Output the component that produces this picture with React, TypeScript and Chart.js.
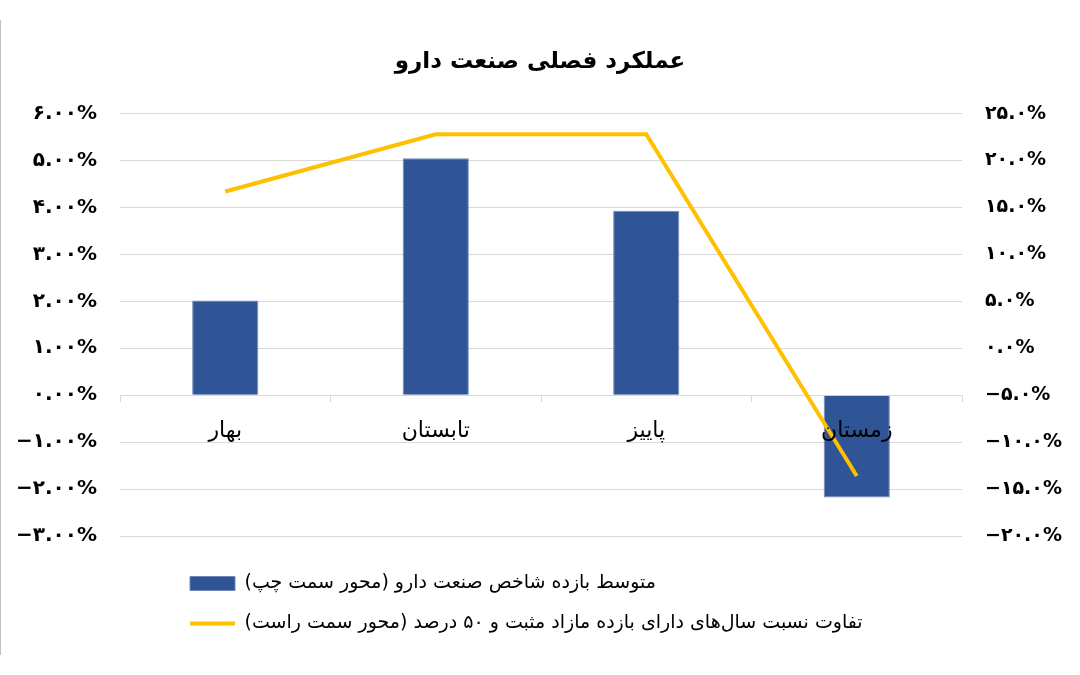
import React, { useEffect, useRef } from "react";
import { Chart, registerables } from "chart.js";

Chart.register(...registerables);

const categories = ["بهار", "تابستان", "پاییز", "زمستان"];
const avgReturn = [2.02, 5.05, 3.93, -2.18];
const diffRatio = [16.7, 22.8, 22.8, -13.6];
const leftTickLabels: Record<string, string> = {
  "6": "۶.۰۰%", "5": "۵.۰۰%", "4": "۴.۰۰%", "3": "۳.۰۰%", "2": "۲.۰۰%",
  "1": "۱.۰۰%", "0": "۰.۰۰%", "-1": "−۱.۰۰%", "-2": "−۲.۰۰%", "-3": "−۳.۰۰%",
};
const rightTickLabels: Record<string, string> = {
  "25": "۲۵.۰%", "20": "۲۰.۰%", "15": "۱۵.۰%", "10": "۱۰.۰%", "5": "۵.۰%",
  "0": "۰.۰%", "-5": "−۵.۰%", "-10": "−۱۰.۰%", "-15": "−۱۵.۰%", "-20": "−۲۰.۰%",
};
const titleText = "عملکرد فصلی صنعت دارو";
const barLabel = "متوسط بازده شاخص صنعت دارو (محور سمت چپ)";
const lineLabel = "تفاوت نسبت سال‌های دارای بازده مازاد مثبت و ۵۰ درصد (محور سمت راست)";

const FONT = "'DejaVu Sans', sans-serif";
const LRM = "\u200E";

const legendShift = {
  id: "legendShift",
  afterLayout(chart: any) {
    const lg = chart.legend;
    if (lg && chart.chartArea) {
      lg.left = chart.chartArea.left + 70 - lg.options.labels.padding;
      lg.top += 17;
      lg.bottom += 17;
    }
  },
};

export default function App() {
  const ref = useRef<HTMLCanvasElement | null>(null);
  useEffect(() => {
    if (!ref.current) return;
    const chart = new Chart(ref.current, {
      data: {
        labels: categories,
        datasets: [
          {
            type: "line",
            label: lineLabel,
            data: diffRatio,
            yAxisID: "y1",
            borderColor: "#FFC000",
            backgroundColor: "#FFC000",
            borderWidth: 4,
            pointRadius: 0,
            tension: 0,
            order: 0,
          } as any,
          {
            type: "bar",
            label: barLabel,
            data: avgReturn,
            yAxisID: "y",
            backgroundColor: "#2F5597",
            borderColor: "#7088b8",
            borderWidth: 1,
            categoryPercentage: 0.8,
            barPercentage: 0.393,
            order: 1,
          } as any,
        ],
      },
      options: {
        animation: false,
        responsive: true,
        maintainAspectRatio: false,
        layout: { padding: { left: 0, right: 0, top: 0, bottom: 49 } },
        font: { family: FONT },
        plugins: {
          title: {
            display: true,
            text: titleText,
            color: "#000",
            font: { family: FONT, size: 23, weight: "bold" },
            padding: { top: 48, bottom: 38 },
          },
          legend: {
            display: true,
            position: "bottom",
            align: "start",
            reverse: true,
            textDirection: "rtl",
            labels: {
              color: "#000",
              font: { family: FONT, size: 19 },
              usePointStyle: true,
              pointStyleWidth: 45,
              boxHeight: 14,
              padding: 21,
              generateLabels: (chart: any) => {
                return chart.data.datasets.map((ds: any, i: number) => ({
                  text: ds.label,
                  fillStyle: ds.backgroundColor,
                  strokeStyle: ds.type === "line" ? ds.borderColor : "#7088b8",
                  lineWidth: ds.type === "line" ? 4 : 1,
                  pointStyle: ds.type === "line" ? "line" : "rect",
                  datasetIndex: i,
                  hidden: false,
                }));
              },
            },
          },
          tooltip: { enabled: false },
        },
        scales: {
          x: {
            position: { y: 0 } as any,
            offset: true,
            grid: {
              drawOnChartArea: false,
              drawTicks: true,
              tickLength: 6,
              color: "#d9d9d9",
              offset: true,
            },
            border: { display: true, color: "#d9d9d9" },
            ticks: {
              z: 1,
              color: "#000",
              padding: 17,
              font: { family: FONT, size: 22 },
            },
          },
          y: {
            position: "left",
            min: -3,
            max: 6,
            afterFit: (s: any) => { s.width = 120; },
            grid: { color: "#d9d9d9", drawTicks: false },
            border: { display: false },
            ticks: {
              stepSize: 1,
              padding: 23,
              color: "#000",
              font: { family: FONT, size: 20, weight: "bold" },
              callback: (v: any) => LRM + (leftTickLabels[String(v)] ?? "") + LRM,
            },
          },
          y1: {
            position: "right",
            min: -20,
            max: 25,
            afterFit: (s: any) => { s.width = 118; },
            grid: { display: false, drawTicks: false },
            border: { display: false },
            ticks: {
              stepSize: 5,
              padding: 23,
              color: "#000",
              font: { family: FONT, size: 19, weight: "bold" },
              callback: (v: any) => LRM + (rightTickLabels[String(v)] ?? "") + LRM,
            },
          },
        },
      } as any,
      plugins: [legendShift],
    });
    return () => chart.destroy();
  }, []);
  return (
    <div
      style={{
        position: "fixed",
        left: 0,
        top: 0,
        width: 1080,
        height: 675,
        background: "#fff",
      }}
    >
      <div
        style={{
          position: "absolute",
          left: 0,
          top: 20,
          width: 1,
          height: 635,
          background: "#c0c0c8",
        }}
      />
      <canvas ref={ref} />
    </div>
  );
}
